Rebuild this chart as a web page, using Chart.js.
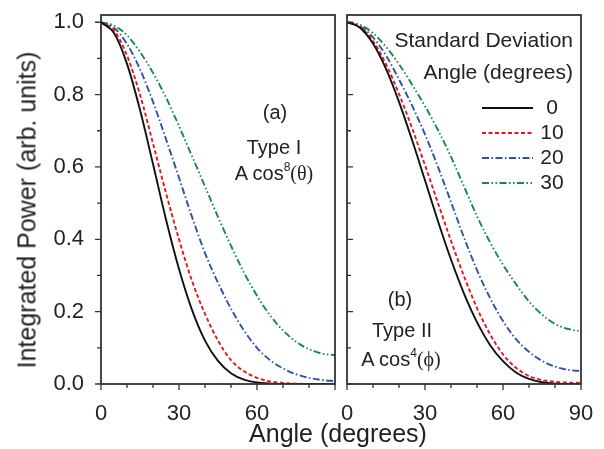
<!DOCTYPE html>
<html>
<head>
<meta charset="utf-8">
<script src="https://cdn.jsdelivr.net/npm/chart.js@4/dist/chart.umd.min.js"></script>
<style>
  body { margin: 0; background: #fff; }
  #wrap { position: relative; width: 604px; height: 449px; font-family: "Liberation Sans", Arial, sans-serif; color: #222; }
  canvas { position: absolute; top: 0; }
  #cLeft { left: 0; }
  #cRight { left: 340px; }
  .txt { position: absolute; white-space: nowrap; line-height: 1; }
  .ann { font-size: 20px; transform: translateX(-50%); }
  .ann sup { font-size: 12px; vertical-align: 0; position: relative; top: -9px; }
  .greek { font-family: "Liberation Serif", "Times New Roman", serif; }
  #yTitle { font-size: 25px; left: 27px; top: 210px; transform: translate(-50%, -50%) rotate(-90deg); }
  #xTitle { font-size: 25px; left: 338px; top: 421px; transform: translateX(-50%); }
</style>
</head>
<body>
<div id="wrap">
  <canvas id="cLeft" width="340" height="449"></canvas>
  <canvas id="cRight" width="264" height="449"></canvas>
  <div class="txt" id="yTitle">Integrated Power (arb. units)</div>
  <div class="txt" id="xTitle">Angle (degrees)</div>
  <div class="txt ann" style="left:275px;top:102px">(a)</div>
  <div class="txt ann" style="left:274px;top:137px">Type I</div>
  <div class="txt ann" style="left:274px;top:163px">A cos<sup>8</sup><span class="greek">(&theta;)</span></div>
  <div class="txt ann" style="left:400px;top:289px">(b)</div>
  <div class="txt ann" style="left:402px;top:320px">Type II</div>
  <div class="txt ann" style="left:401px;top:349px">A cos<sup>4</sup><span class="greek">(&#981;)</span></div>
</div>
<script>
// angles (degrees) where the curves are sampled
const angles = [0, 5, 10, 15, 20, 25, 30, 35, 40, 45, 50, 55, 60, 65, 70, 75, 80, 85, 90];

// (a) Type I, A cos^8(theta), one series per standard deviation angle
const typeI_sd0  = [1.000, 0.970, 0.885, 0.758, 0.608, 0.455, 0.318, 0.205, 0.120, 0.064, 0.030, 0.012, 0.004, 0.001, 0.000, 0.000, 0.000, 0.000, 0.000];
const typeI_sd10 = [1.000, 0.978, 0.908, 0.800, 0.665, 0.528, 0.400, 0.285, 0.194, 0.120, 0.066, 0.035, 0.017, 0.007, 0.003, 0.001, 0.000, 0.000, 0.000];
const typeI_sd20 = [1.000, 0.985, 0.940, 0.870, 0.780, 0.677, 0.570, 0.462, 0.362, 0.280, 0.208, 0.148, 0.100, 0.066, 0.043, 0.027, 0.017, 0.011, 0.008];
const typeI_sd30 = [1.000, 0.991, 0.964, 0.918, 0.860, 0.792, 0.713, 0.630, 0.546, 0.462, 0.382, 0.308, 0.244, 0.190, 0.148, 0.117, 0.096, 0.084, 0.080];

// (b) Type II, A cos^4(phi)
const typeII_sd0  = [1.000, 0.985, 0.941, 0.871, 0.780, 0.675, 0.563, 0.450, 0.344, 0.250, 0.171, 0.108, 0.063, 0.032, 0.014, 0.005, 0.001, 0.000, 0.000];
const typeII_sd10 = [1.000, 0.987, 0.948, 0.884, 0.802, 0.708, 0.605, 0.500, 0.396, 0.298, 0.210, 0.138, 0.082, 0.045, 0.022, 0.011, 0.006, 0.004, 0.003];
const typeII_sd20 = [1.000, 0.989, 0.958, 0.908, 0.842, 0.770, 0.690, 0.600, 0.503, 0.405, 0.315, 0.238, 0.174, 0.124, 0.089, 0.064, 0.048, 0.039, 0.036];
const typeII_sd30 = [1.000, 0.993, 0.970, 0.932, 0.884, 0.828, 0.768, 0.702, 0.628, 0.546, 0.464, 0.392, 0.330, 0.276, 0.228, 0.192, 0.166, 0.152, 0.146];

const sdLabels = ['0', '10', '20', '30'];
const legendTitle = ['Standard Deviation', 'Angle (degrees)'];

// axis ticks
const xTicks = [0, 10, 20, 30, 40, 50, 60, 70, 80, 90];
const xLabelsLeft = [0, 30, 60];
const xLabelsRight = [0, 30, 60, 90];
const yTicks = [0, 0.1, 0.2, 0.3, 0.4, 0.5, 0.6, 0.7, 0.8, 0.9, 1.0];
const yLabels = [0, 0.2, 0.4, 0.6, 0.8, 1.0];

const FONT = '"Liberation Sans", Arial, sans-serif';
const INK = '#333';

const lineStyles = [
  { color: '#111111', dash: [] },
  { color: '#e8141c', dash: [4, 2.5] },
  { color: '#2f52a8', dash: [7, 2.5, 1.5, 2.5] },
  { color: '#138a46', dash: [7, 2.5, 1.5, 2.5, 1.5, 2.5] }
];

function makeDatasets(seriesList) {
  return seriesList.map((vals, i) => ({
    label: sdLabels[i],
    data: angles.map((a, k) => ({ x: a, y: vals[k] })),
    borderColor: lineStyles[i].color,
    borderDash: lineStyles[i].dash,
    borderWidth: 1.9,
    pointRadius: 0,
    fill: false,
    cubicInterpolationMode: 'monotone'
  }));
}

const isMajorY = v => yLabels.some(l => Math.abs(l - v) < 1e-6);

// no automatic room for overhanging labels: the layout padding decides the plot box
function clearPadding(s) {
  s.paddingTop = 0;
  s.paddingBottom = 0;
  s.paddingLeft = 0;
  s.paddingRight = 0;
}

// frame box and the small tick marks (outside on the left panel's y axis, inside on the right one)
const framePlugin = {
  id: 'frame',
  afterDatasetsDraw(chart, args, opts) {
    const { ctx, chartArea: a } = chart;
    const xs = chart.scales.x, ys = chart.scales.y;
    ctx.save();
    ctx.strokeStyle = INK;
    ctx.lineWidth = 1.3;
    ctx.beginPath();
    xTicks.forEach(v => {
      const px = xs.getPixelForValue(v);
      const len = v % 30 === 0 ? 6 : 4;
      ctx.moveTo(px, a.bottom);
      ctx.lineTo(px, a.bottom + len);
    });
    yTicks.forEach(v => {
      const py = ys.getPixelForValue(v);
      const len = isMajorY(v) ? 6 : 4;
      if (opts.yInside) {
        ctx.moveTo(a.left, py);
        ctx.lineTo(a.left + len, py);
      } else {
        ctx.moveTo(a.left - len, py);
        ctx.lineTo(a.left, py);
      }
    });
    ctx.stroke();
    ctx.lineWidth = 1.8;
    ctx.strokeRect(a.left, a.top, a.right - a.left, a.bottom - a.top);
    ctx.restore();
  }
};

// legend for the standard deviation angles, drawn inside panel (b)
const sdLegendPlugin = {
  id: 'sdLegend',
  afterDraw(chart, args, opts) {
    if (!opts.show) return;
    const ctx = chart.ctx;
    ctx.save();
    ctx.font = '21px ' + FONT;
    ctx.fillStyle = '#222';
    ctx.textBaseline = 'middle';
    ctx.textAlign = 'right';
    legendTitle.forEach((t, i) => ctx.fillText(t, opts.titleRight, opts.titleTop + i * 32));
    chart.data.datasets.forEach((ds, i) => {
      const y = opts.rowTop + i * 25;
      ctx.strokeStyle = ds.borderColor;
      ctx.lineWidth = ds.borderWidth;
      ctx.setLineDash(ds.borderDash);
      ctx.beginPath();
      ctx.moveTo(opts.sampleLeft, y);
      ctx.lineTo(opts.sampleLeft + opts.sampleWidth, y);
      ctx.stroke();
      ctx.setLineDash([]);
      ctx.textAlign = 'center';
      ctx.fillText(ds.label, opts.labelCenter, y);
    });
    ctx.restore();
  }
};

function makeChart(canvasId, seriesList, xLabels, cfg) {
  return new Chart(document.getElementById(canvasId), {
    type: 'line',
    data: { datasets: makeDatasets(seriesList) },
    plugins: [framePlugin, sdLegendPlugin],
    options: {
      responsive: false,
      animation: false,
      events: [],
      layout: { padding: cfg.padding },
      plugins: {
        legend: { display: false },
        tooltip: { enabled: false },
        frame: { yInside: cfg.yInside },
        sdLegend: cfg.legend
      },
      scales: {
        x: {
          type: 'linear',
          min: 0,
          max: 90,
          afterBuildTicks: s => { s.ticks = xTicks.map(v => ({ value: v })); },
          afterFit: s => { s.height = 65; clearPadding(s); },
          grid: { display: false },
          border: { display: false },
          ticks: {
            autoSkip: false,
            maxRotation: 0,
            padding: 9,
            color: '#222',
            font: { family: FONT, size: 22 },
            callback: v => xLabels.includes(v) ? String(v) : ''
          }
        },
        y: {
          type: 'linear',
          display: cfg.showY,
          min: 0,
          max: 1.02,
          afterBuildTicks: s => { s.ticks = yTicks.map(v => ({ value: v })); },
          afterFit: s => { s.width = cfg.yWidth; clearPadding(s); },
          grid: { display: false },
          border: { display: false },
          ticks: {
            autoSkip: false,
            padding: 9,
            color: '#222',
            font: { family: FONT, size: 22 },
            callback: v => isMajorY(v) ? v.toFixed(1) : ''
          }
        }
      }
    }
  });
}

makeChart('cLeft', [typeI_sd0, typeI_sd10, typeI_sd20, typeI_sd30], xLabelsLeft, {
  padding: { top: 15, right: 5, left: 0, bottom: 0 },
  showY: true,
  yWidth: 101,
  yInside: false,
  legend: { show: false }
});

makeChart('cRight', [typeII_sd0, typeII_sd10, typeII_sd20, typeII_sd30], xLabelsRight, {
  padding: { top: 15, right: 23, left: 7, bottom: 0 },
  showY: false,
  yWidth: 0,
  yInside: true,
  legend: { show: true, titleRight: 233, titleTop: 41, sampleLeft: 142, sampleWidth: 51, labelCenter: 212, rowTop: 108 }
});
</script>
</body>
</html>
